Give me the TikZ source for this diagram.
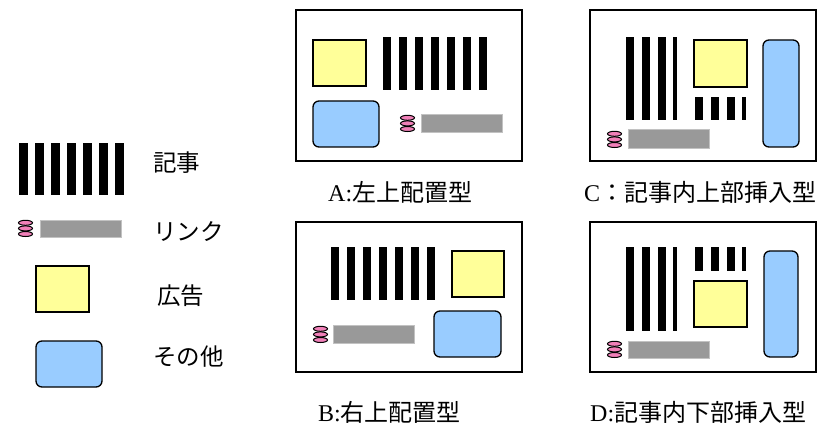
\documentclass[tikz,border=0pt]{standalone}
\usepackage{fontspec}
\setmainfont{Liberation Serif}
\newfontfamily\cjk{Noto Sans CJK JP}
\definecolor{adyellow}{HTML}{FFFF99}
\definecolor{otherblue}{HTML}{99CCFF}
\definecolor{linkgray}{HTML}{999999}
\definecolor{linkpink}{HTML}{F080B8}
\tikzset{
  pageframe/.style={draw=black,line width=1.5pt,fill=white},
  adbox/.style={draw=black,line width=1.3pt,fill=adyellow},
  otherbox/.style={draw=black,line width=1.3pt,fill=otherblue,rounded corners=6pt},
  linkbar/.style={fill=linkgray,draw=linkgray!60!white,line width=0.5pt},
  linkdot/.style={draw=black,line width=1pt,fill=linkpink},
  lbl/.style={inner sep=0pt,anchor=west,font=\fontsize{23.5}{26}\selectfont},
  captext/.style={inner sep=0pt,anchor=west,font=\fontsize{24}{26}\selectfont}
}
\newcommand\lnkicon[2]{%
  \foreach \k in {2,1,0}{\draw[linkdot] (#1+7.5,#2+2.8+5.6*\k) ellipse [x radius=7, y radius=2.5];}}
\begin{document}
\begin{tikzpicture}[x=1pt,y=-1pt]
\useasboundingbox (0,0) rectangle (823,425);

% ---------- legend ----------
\foreach \i in {0,...,6}{\fill (19+16*\i,143) rectangle ++(8.5,52);}
\lnkicon{18}{220}
\draw[linkbar] (40,220) rectangle (121,237);
\draw[adbox] (36,266) rectangle (89,312);
\draw[otherbox] (36,341) rectangle (102,387);
\node[lbl] (lk) at (153,163) {\cjk 記事};
\node[lbl] (ll) at (153,232) {\cjk リンク};
\node[lbl] (la) at (157,296) {\cjk 広告};
\node[lbl] (lo) at (153,357) {\cjk その他};

% ---------- A ----------
\draw[pageframe] (296,10) rectangle (522,161);
\draw[adbox] (313,40) rectangle (366,86);
\foreach \i in {0,...,6}{\fill (383+16*\i,37) rectangle ++(8,53);}
\draw[otherbox] (313,101) rectangle (379,147);
\lnkicon{400}{115}
\draw[linkbar] (421,114) rectangle (502,132);
\node[captext] (ca) at (328,192) {A:\cjk 左上配置型};

% ---------- C ----------
\draw[pageframe] (590,10) rectangle (816,161);
\foreach \x in {626,642,658}{\fill (\x,37) rectangle ++(8,83);}
\fill (673,37) rectangle ++(4,83);
\draw[adbox] (694,40) rectangle (747,87);
\foreach \x in {695,711,727}{\fill (\x,97) rectangle ++(8,23);}
\fill (742,97) rectangle ++(4,23);
\draw[otherbox] (763,40) rectangle (799,147);
\lnkicon{607}{131}
\draw[linkbar] (628,129) rectangle (709,148);
\node[captext] (cc) at (584,192) {C\cjk ：記事内上部挿入型};

% ---------- B ----------
\draw[pageframe] (296,222) rectangle (522,372);
\foreach \i in {0,...,6}{\fill (331+16*\i,247) rectangle ++(8,53);}
\draw[adbox] (452,251) rectangle (504,297);
\draw[otherbox] (434,311) rectangle (501,357);
\lnkicon{313}{326}
\draw[linkbar] (333,325) rectangle (414,343);
\node[captext] (cb) at (318,412) {B:\cjk 右上配置型};

% ---------- D ----------
\draw[pageframe] (590,222) rectangle (816,372);
\foreach \x in {626,642,658}{\fill (\x,247) rectangle ++(8,84);}
\fill (673,247) rectangle ++(4,84);
\foreach \x in {695,711,727}{\fill (\x,247) rectangle ++(8,24);}
\fill (742,247) rectangle ++(4,24);
\draw[adbox] (694,281) rectangle (747,327);
\draw[otherbox] (764,251) rectangle (798,357);
\lnkicon{607}{341}
\draw[linkbar] (628,341) rectangle (709,358);
\node[captext] (cd) at (590,412) {D:\cjk 記事内下部挿入型};
\end{tikzpicture}
\end{document}
